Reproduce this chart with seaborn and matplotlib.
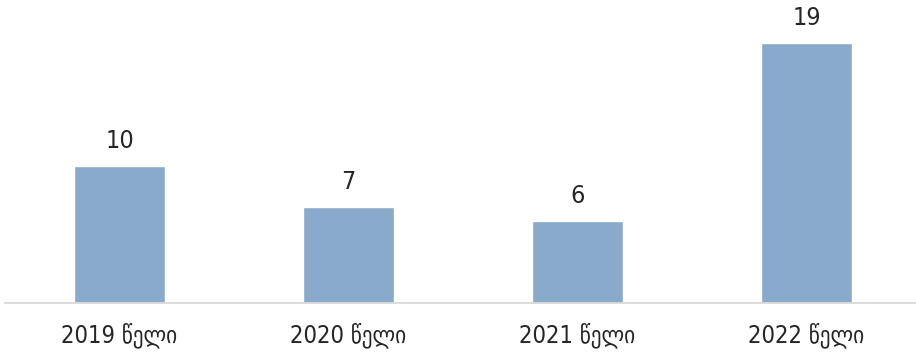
import matplotlib
matplotlib.use("Agg")
import matplotlib.pyplot as plt
import seaborn as sns
import pandas as pd

categories = ["2019 წელი", "2020 წელი", "2021 წელი", "2022 წელი"]
values = [10, 7, 6, 19]

sns.set_style("white")
plt.rcParams['font.family'] = ['DejaVu Sans']
plt.rcParams['font.stretch'] = 'condensed'

df = pd.DataFrame({"year": categories, "count": values})

fig = plt.figure(figsize=(9.16, 3.54), dpi=100)
ax = fig.add_axes([5/916, 51/354, 916/916, 303/354])
sns.barplot(data=df, x="year", y="count", color="#8AAACB", width=0.40,
            saturation=1, ax=ax)
ax.set_xlim(-0.5, 3.5)
ax.set_ylim(0, 22.15)
for i, v in enumerate(values):
    ax.annotate(str(v), (i, v), xytext=(0, 13), textcoords="offset points",
                ha="center", va="baseline", fontsize=18, color="#262626",
                fontstretch='condensed')
ax.set_xlabel("")
ax.set_ylabel("")
ax.set_yticks([])
for s in ["top", "right", "left"]:
    ax.spines[s].set_visible(False)
ax.spines["bottom"].set_color("#D9D9D9")
ax.spines["bottom"].set_linewidth(1.3)
ax.tick_params(axis="x", length=0, pad=14, labelsize=17, labelcolor="#262626")
fig.savefig("out.png", dpi=100)
